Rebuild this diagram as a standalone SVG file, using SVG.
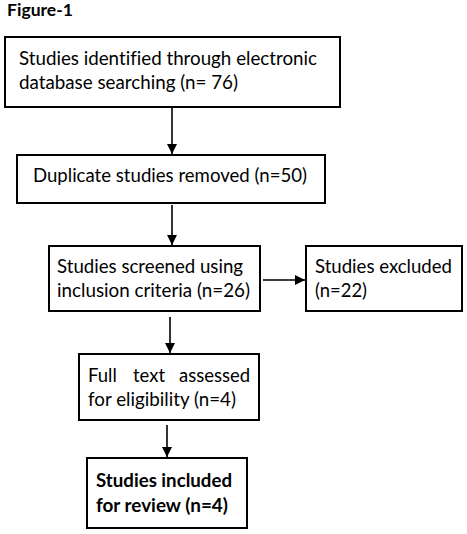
<svg xmlns="http://www.w3.org/2000/svg" width="467" height="534" viewBox="0 0 467 534">
<defs>
<style>
.box{fill:#fff;stroke:#000;stroke-width:2}
.t{font-family:Lato,"Liberation Sans",sans-serif;font-size:18.5px;fill:#000;font-variant-ligatures:none}
.b{font-weight:bold}
.c{stroke:#000;stroke-width:1.6;fill:none}
</style>
<marker id="ah" viewBox="0 0 10 10" refX="10" refY="5" markerWidth="10" markerHeight="10" markerUnits="userSpaceOnUse" orient="auto">
<path d="M0,0 L10,5 L0,10 z" fill="#000"/>
</marker>
</defs>
<rect width="467" height="534" fill="#fff"/>
<text class="t b" x="7" y="16" style="font-size:17px" textLength="66" lengthAdjust="spacingAndGlyphs">Figure-1</text>
<g id="n1">
<rect class="box" x="5" y="37" width="335" height="70"/>
<text class="t" x="19" y="65" textLength="298" lengthAdjust="spacingAndGlyphs">Studies identified through electronic</text>
<text class="t" x="19" y="89" textLength="219" lengthAdjust="spacingAndGlyphs">database searching (n= 76)</text>
</g>
<g id="n2">
<rect class="box" x="17" y="155" width="308" height="48"/>
<text class="t" x="33" y="182" textLength="274" lengthAdjust="spacingAndGlyphs">Duplicate studies removed (n=50)</text>
</g>
<g id="n3">
<rect class="box" x="49" y="246" width="211" height="65"/>
<text class="t" x="57" y="273" textLength="186" lengthAdjust="spacingAndGlyphs">Studies screened using</text>
<text class="t" x="57" y="297" textLength="193" lengthAdjust="spacingAndGlyphs">inclusion criteria (n=26)</text>
</g>
<g id="n4">
<rect class="box" x="306" y="246" width="156" height="65"/>
<text class="t" x="315" y="273" textLength="137" lengthAdjust="spacingAndGlyphs">Studies excluded</text>
<text class="t" x="315" y="297" textLength="52" lengthAdjust="spacingAndGlyphs">(n=22)</text>
</g>
<g id="n5">
<rect class="box" x="79" y="354" width="180" height="66"/>
<text class="t" y="382"><tspan x="88">Full</tspan> <tspan x="133">text</tspan> <tspan x="179">assessed</tspan></text>
<text class="t" x="88" y="406" textLength="148" lengthAdjust="spacingAndGlyphs">for eligibility (n=4)</text>
</g>
<g id="n6">
<rect class="box" x="87" y="458" width="160" height="70"/>
<text class="t b" x="96" y="487" textLength="136" lengthAdjust="spacingAndGlyphs">Studies included</text>
<text class="t b" x="96" y="512" textLength="132" lengthAdjust="spacingAndGlyphs">for review (n=4)</text>
</g>
<g id="connectors">
<line class="c" x1="172" y1="108" x2="172" y2="154" marker-end="url(#ah)"/>
<line class="c" x1="172" y1="205" x2="172" y2="245" marker-end="url(#ah)"/>
<line class="c" x1="263" y1="280" x2="305" y2="280" marker-end="url(#ah)"/>
<line class="c" x1="170" y1="317" x2="170" y2="353" marker-end="url(#ah)"/>
<line class="c" x1="167" y1="425" x2="167" y2="457" marker-end="url(#ah)"/>
</g>
</svg>
